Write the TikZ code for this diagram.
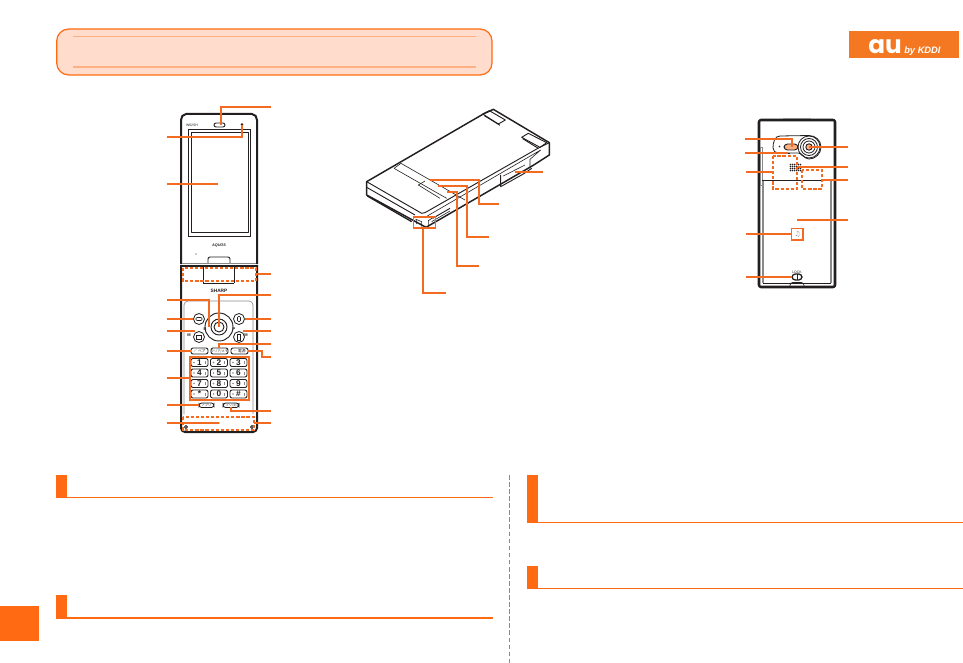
\documentclass[tikz,border=0pt]{standalone}
\usepackage{fontspec}
\setmainfont{Liberation Sans}
\newfontfamily\logofont{Poppins}
\newfontfamily\jpfont{Noto Sans CJK JP}
\newfontfamily\symfont{DejaVu Sans}
\definecolor{orbar}{HTML}{FF6A13}
\definecolor{orlead}{HTML}{F26B21}
\definecolor{orfill}{HTML}{FFDCCB}
\definecolor{orline}{HTML}{FFB083}
\definecolor{orlogo}{HTML}{F47721}
\definecolor{inkk}{HTML}{231F20}
\definecolor{grayk}{HTML}{8A8A8A}
\tikzset{
  px/.style={x=0.75pt,y=-0.75pt},
  leader/.style={draw=orlead,line width=1.05pt,line join=miter},
  dashbox/.style={draw=orlead,line width=1.05pt,dash pattern=on 2.4pt off 1.4pt},
  body/.style={draw=inkk,line width=1.5pt,line join=round},
  thin/.style={draw=inkk,line width=0.45pt},
  mid/.style={draw=inkk,line width=0.7pt,line join=round},
  softgray/.style={draw=grayk,line width=0.8pt},
  keycap/.style={draw=inkk,line width=0.65pt,rounded corners=1.5pt,fill=white},
  keytext/.style={font=\fontsize{6.2}{6}\selectfont\bfseries,text=inkk,inner sep=0pt},
  tiny/.style={font=\fontsize{3}{3}\selectfont\bfseries,text=inkk,inner sep=0pt},
  jptiny/.style={font=\jpfont\fontsize{2.8}{3}\selectfont,text=inkk,inner sep=0pt},
  barfill/.style={fill=orbar,draw=none}
}
\begin{document}
\begin{tikzpicture}[px]
\useasboundingbox (0,0) rectangle (963,663);
% ---------- page furniture
\draw[rounded corners=9pt,fill=orfill,draw=orbar,line width=0.9pt] (56.7,29) rectangle (492,75);
\draw[draw=orline,line width=0.9pt] (73,36.7) -- (476,36.7) (73,67) -- (476,67);
\fill[orlogo] (849,31) rectangle (959,58);
\node[inner sep=0pt,text=white,anchor=base west] (logoau) at (868,54) {\logofont\fontsize{18.5}{20}\selectfont\bfseries au};
\node[inner sep=0pt,text=white,anchor=base west] (logoby) at (904,53.5) {\fontsize{7}{7}\selectfont\bfseries\itshape by KDDI};
% section bars
\fill[barfill] (56,475) rectangle (67,498);
\fill[barfill] (56,497) rectangle (493,498);
\fill[barfill] (56,595) rectangle (67,619);
\fill[barfill] (56,617) rectangle (493,619);
\fill[barfill] (527,475) rectangle (538,523);
\fill[barfill] (527,522) rectangle (963,523);
\fill[barfill] (527,566) rectangle (538,589);
\fill[barfill] (527,588) rectangle (963,589);
\fill[barfill] (0,606) rectangle (39,641);
\draw[draw=grayk,line width=0.5pt,dash pattern=on 3.5pt off 1.8pt] (509,475) -- (509,663);
% ---------- open phone, upper half
\draw[body] (181,264) -- (181,120) to[out=90,in=180] (186,114) -- (252,114) to[out=0,in=90] (257,120) -- (257,264);
\draw[thin,line width=0.6pt] (188,129) rectangle (250,236);
\draw[mid] (191,132) rectangle (248,232);
\draw[mid,rounded corners=1.5pt,fill=white] (214,123) rectangle (225,127);
\draw[thin,fill=inkk] (242,124.5) circle (0.9);
\node[tiny,font=\fontsize{2.6}{3}\selectfont] (modelmark) at (192,125) {W62SH};
\node[tiny,font=\fontsize{2.8}{3}\selectfont\bfseries\itshape] (brandmark) at (219,246) {AQUOS};
\fill[inkk] (196,254) circle (0.7);
\draw[mid,rounded corners=1.5pt] (208,263) -- (208,257) -- (230,257) -- (230,263);
\draw[draw=grayk,line width=1.3pt] (182,263.5) -- (256,263.5);
% ---------- open phone, lower half
\draw[body] (181,265) -- (181,428) to[out=-90,in=180] (185,432) -- (253,432) to[out=0,in=-90] (257,428) -- (257,265);
\draw[mid,line width=1pt] (182,266) -- (256,266);
\draw[mid] (203,267) -- (203,283);
\draw[mid] (234,267) -- (234,283);
\draw[mid] (203,283) -- (234,283);
\node[tiny,font=\fontsize{3.6}{4}\selectfont\bfseries] (sharp) at (219,291) {SHARP};
\draw[draw=grayk,line width=0.5pt,rounded corners=3pt] (184,414) -- (184,301) -- (253,301) -- (253,414);
% navigation cluster
\draw[mid,fill=white] (219,327) circle (14);
\draw[mid] (219,327) circle (8);
\draw[mid] (219,327) circle (5);
\foreach \cx/\cy in {199/319,239/319,199/337,239/337}{
  \draw[thin,line width=0.6pt,fill=white] (\cx,\cy) circle (5.5);
}
\draw[thin,rounded corners=0.8pt] (196,317.5) rectangle (202,320.5);
\draw[thin,rounded corners=0.8pt] (237.5,316.5) rectangle (240.5,321.5);
\draw[thin] (196.5,335.5) rectangle (201.5,339);
\draw[thin] (237.5,334.5) rectangle (240.5,340);
\node[tiny] (navl) at (205,329) {B};
\node[tiny] (navr) at (234,329) {P};
\node[tiny] (keyl) at (189,335) {M};
\node[tiny] (keyr) at (246,335) {M};
% top row keys
\draw[keycap] (191,348) rectangle (208,354);
\draw[keycap] (211,348) rectangle (228,354);
\draw[keycap] (231,348) rectangle (248,354);
\node[jptiny] (k-call) at (199.5,351) {／ ペア};
\node[jptiny,font=\jpfont\fontsize{2.4}{3}\selectfont] (k-mid) at (219.5,351) {クリア/メモ};
\node[jptiny] (k-end) at (239.5,351) {― 電源};
% number pad
\foreach \lbl/\cx/\cy in {1/199.5/362.5,2/219/362.5,3/238.5/362.5,4/199.5/373,5/219/373,6/238.5/373,7/199.5/383.5,8/219/383.5,9/238.5/383.5,*/199.5/394,0/219/394,\#/238.5/394}{
  \draw[keycap] (\cx-8.5,\cy-4) rectangle (\cx+8.5,\cy+4);
  \node[keytext] at (\cx,\cy) {\lbl};
  \fill[grayk] (\cx-5.5,\cy) circle (0.8);
  \fill[grayk] (\cx+5.2,\cy-1.5) rectangle (\cx+6.2,\cy+1.5);
}
\draw[draw=orlead,line width=1.5pt] (189.5,356.5) rectangle (249,400);
% bottom small keys
\draw[keycap,rounded corners=2pt] (199,403) rectangle (214,407.5);
\draw[keycap,rounded corners=2pt] (223,403) rectangle (239,407.5);
\node[jptiny,font=\jpfont\fontsize{2.4}{3}\selectfont] (k-appl) at (206.5,405.2) {アプリ};
\node[jptiny,font=\jpfont\fontsize{2.4}{3}\selectfont] (k-ez) at (231,405.2) {アプリ/文字};
\fill[inkk] (219,423) circle (0.7);
\draw[mid] (186,427) circle (1.5);
\draw[mid] (252,427) circle (1.5);
% dashed areas
\draw[dashbox] (183,268) rectangle (256,281);
\draw[dashbox] (183,417) rectangle (254,430);
% leaders, open view
\coordinate (fl-spk) at (221,125);
\coordinate (fl-spkE) at (271,107);
\coordinate (fl-sen) at (242,125);
\coordinate (fl-senE) at (167,137);
\coordinate (fl-scr) at (218,184);
\coordinate (fl-scrE) at (167,184);
\coordinate (fl-hin) at (256,274);
\coordinate (fl-hinE) at (271,274);
\coordinate (fl-ringL) at (209,327);
\coordinate (fl-ringLE) at (167,300);
\coordinate (fl-cen) at (219,327);
\coordinate (fl-cenE) at (271,295);
\coordinate (fl-sl) at (193,319);
\coordinate (fl-slE) at (167,319);
\coordinate (fl-sr) at (245,319);
\coordinate (fl-srE) at (271,319);
\coordinate (fl-ml) at (195,331);
\coordinate (fl-mlE) at (167,331);
\coordinate (fl-mr) at (243,331);
\coordinate (fl-mrE) at (271,331);
\coordinate (fl-call) at (191,351);
\coordinate (fl-callE) at (167,351);
\coordinate (fl-mem) at (219,348);
\coordinate (fl-memE) at (271,344);
\coordinate (fl-end) at (248,351);
\coordinate (fl-endE) at (271,357);
\coordinate (fl-pad) at (190,378);
\coordinate (fl-padE) at (167,378);
\coordinate (fl-app) at (199,405);
\coordinate (fl-appE) at (167,405);
\coordinate (fl-ez) at (231,407);
\coordinate (fl-ezE) at (271,411);
\coordinate (fl-mic) at (219,423);
\coordinate (fl-micE) at (167,423);
\coordinate (fl-ant) at (254,423);
\coordinate (fl-antE) at (271,423);
\draw[leader] (fl-spk) |- (fl-spkE);
\draw[leader] (fl-sen) |- (fl-senE);
\draw[leader] (fl-scr) -- (fl-scrE);
\draw[leader] (fl-hin) -- (fl-hinE);
\draw[leader] (fl-ringL) |- (fl-ringLE);
\draw[leader] (fl-cen) |- (fl-cenE);
\draw[leader] (fl-sl) -- (fl-slE);
\draw[leader] (fl-sr) -- (fl-srE);
\draw[leader] (fl-ml) -- (fl-mlE);
\draw[leader] (fl-mr) -- (fl-mrE);
\draw[leader] (fl-call) -- (fl-callE);
\draw[leader] (fl-mem) |- (fl-memE);
\draw[leader] (fl-end) -| (262,357) -- (fl-endE);
\draw[leader] (fl-pad) -- (fl-padE);
\draw[leader] (fl-app) -- (fl-appE);
\draw[leader] (fl-ez) |- (fl-ezE);
\draw[leader] (fl-mic) -- (fl-micE);
\draw[leader] (fl-ant) -- (fl-antE);
% ---------- closed phone (perspective)
\begin{scope}[shift={(350,100)},x=0.25pt,y=-0.25pt]
\draw[body,line width=1.1pt] (50,245) -- (400,42) -- (430,28) -- (598,128) -- (598,165) -- (548,197) -- (228,382) -- (50,285) -- cycle;
\draw[mid] (50,245) -- (215,340) -- (225,338) -- (560,147) -- (598,128);
\draw[mid] (50,262) -- (195,345);
\draw[mid,line width=1pt] (52,288) -- (185,365);
\draw[thin] (232,348) -- (572,150) -- (540,178) -- (540,205);
\draw[thin] (245,365) -- (300,333);
\draw[mid] (300,325) -- (248,355);
% hinge flaps
\draw[mid] (398,42) -- (418,32) -- (466,60) -- (445,72) -- cycle;
\draw[mid] (403,47) -- (450,76);
\draw[mid] (515,112) -- (535,100) -- (590,128) -- (570,142) -- cycle;
\draw[mid] (518,116) -- (565,145);
% sub display
\draw[thin] (132,205) -- (153,190) -- (345,300);
\draw[thin] (132,205) -- (290,295);
\draw[thin] (205,255) -- (225,243);
\draw[thin] (205,255) -- (270,295);
% side slot
\draw[mid] (452,225) -- (452,260) -- (520,222) -- (545,205);
\draw[thin] (460,228) -- (525,195);
% front
\draw[thin] (200,372) -- (198,358) -- (215,365) -- (215,380);
\draw[thin] (235,380) -- (235,362) -- (250,352);
\end{scope}
\draw[draw=orlead,line width=1.1pt] (413.5,217) rectangle (435.5,228);
\coordinate (cl-a) at (430,180);
\coordinate (cl-aE) at (499,204);
\coordinate (cl-b) at (438,186);
\coordinate (cl-bE) at (489,237);
\coordinate (cl-c) at (447,192);
\coordinate (cl-cE) at (479,266);
\coordinate (cl-d) at (515,172);
\coordinate (cl-dE) at (543,172);
\coordinate (cl-e) at (423,228);
\coordinate (cl-eE) at (446,293);
\draw[leader] (cl-a) -| (479,204) -- (cl-aE);
\draw[leader] (cl-b) -| (467,237) -- (cl-bE);
\draw[leader] (cl-c) -| (457,266) -- (cl-cE);
\draw[leader] (cl-d) -- (cl-dE);
\draw[leader] (cl-e) |- (cl-eE);
% ---------- rear view
\draw[body,rounded corners=1.5pt,line width=1.9pt] (759,120) rectangle (835,287);
\draw[draw=grayk,line width=0.7pt,fill=white] (760,147) rectangle (762,185);
\draw[draw=grayk,line width=0.6pt] (783,118.5) -- (811,118.5);
\draw[softgray] (763,180) -- (763,283);
\draw[softgray] (831,180) -- (831,283);
\draw[thin,line width=0.5pt] (762,180) -- (832,180);
\draw[mid,line width=1pt] (763,283.5) -- (831,283.5);
\draw[thin,line width=0.5pt,rounded corners=2pt] (790,287) -- (790,282.5) -- (804,282.5) -- (804,287);
\draw[thin,line width=0.6pt] (778,153) to[out=180,in=-90] (773,148) to[out=90,in=180] (780,136) -- (809,135.5) to[out=0,in=90] (821,147) to[out=-90,in=0] (809,159) to[out=180,in=0] (798,153) -- cycle;
\draw[thin,line width=0.6pt] (809,147) circle (11);
\draw[thin,line width=0.6pt] (809,147) circle (8.5);
\draw[thin,line width=0.6pt] (809,147) circle (6);
\draw[mid,fill=orline] (809,147) circle (3.2);
\draw[mid,fill=orline,rounded corners=2.6pt] (784,144) rectangle (798,150);
\fill[inkk] (779.5,146.5) circle (0.8);
\foreach \gx in {790.5,792.5,794.5,796.5,798.5,800.5}{
  \foreach \gy in {164.5,166.5,168.5,170.5}{
    \fill[inkk] (\gx,\gy) circle (0.8);
  }
}
\draw[mid] (790,153) -- (788,153);
\draw[draw=orlead,line width=1.4pt,fill=white] (791.5,228.5) rectangle (803,240);
\node[tiny,font=\symfont\fontsize{5}{5}\selectfont,text=grayk] (rearicon) at (797.5,234.5) {♫};
\draw[mid,line width=1pt,rounded corners=2.5pt,fill=white] (792,274) rectangle (802,280);
\draw[mid] (797,274) -- (797,280);
\node[tiny,font=\fontsize{2.6}{3}\selectfont] (closemark) at (797,272) {LOCK};
\draw[dashbox] (773,156) rectangle (797,189);
\draw[dashbox] (802,170) rectangle (822,189);
\coordinate (re-l) at (792,147);
\coordinate (re-lE) at (745,139);
\coordinate (re-a) at (788,153);
\coordinate (re-aE) at (745,153);
\coordinate (re-b) at (773,172);
\coordinate (re-bE) at (746,172);
\coordinate (re-cam) at (809,147);
\coordinate (re-camE) at (848,147);
\coordinate (re-g) at (797,167);
\coordinate (re-gE) at (848,167);
\coordinate (re-d) at (822,180);
\coordinate (re-dE) at (848,180);
\coordinate (re-c) at (797,220);
\coordinate (re-cE) at (848,220);
\coordinate (re-s) at (791,234);
\coordinate (re-sE) at (746,234);
\coordinate (re-k) at (792,277);
\coordinate (re-kE) at (746,277);
\draw[leader] (re-l) |- (re-lE);
\draw[leader] (re-a) -- (re-aE);
\draw[leader] (re-b) -- (re-bE);
\draw[leader] (re-cam) -- (re-camE);
\draw[leader] (re-g) -- (re-gE);
\draw[leader] (re-d) -- (re-dE);
\draw[leader] (re-c) -- (re-cE);
\draw[leader] (re-s) -- (re-sE);
\draw[leader] (re-k) -- (re-kE);
\end{tikzpicture}
\end{document}
